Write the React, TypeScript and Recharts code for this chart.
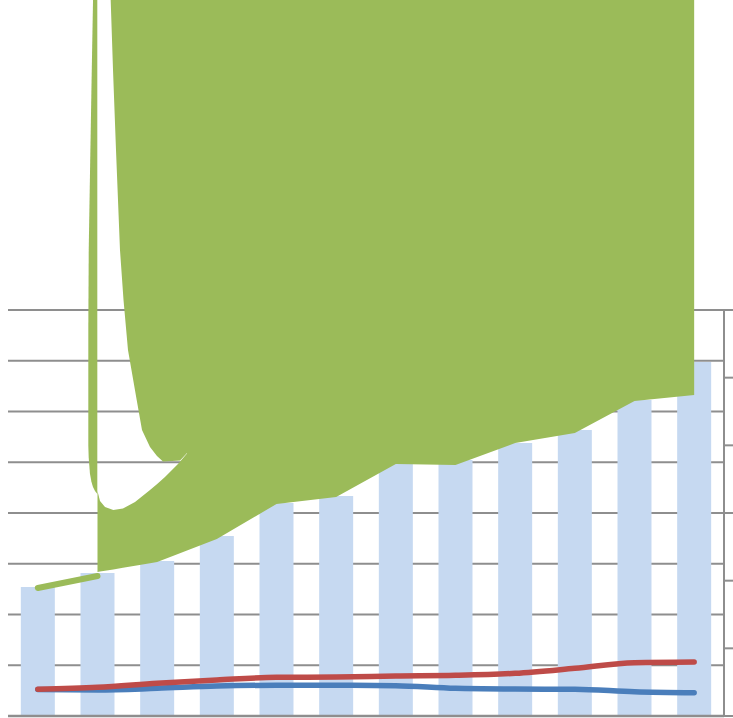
import React from 'react';
import { ComposedChart, Bar, Line, Area, XAxis, YAxis, CartesianGrid } from 'recharts';

// ---- main series ----
const categories = ['2001', '2002', '2003', '2004', '2005', '2006', '2007', '2008', '2009', '2010', '2011', '2012'];
const barValues = [2542, 2818, 3054, 3547, 4197, 4335, 4985, 5044, 5379, 5635, 6227, 6975];
const greenLineValues = [2522, 2759, null, null, null, null, null, null, null, null, null, null];
const greenValues = [null, 2837, 3035, 3488, 4177, 4315, 4966, 4946, 5379, 5576, 6207, 6325];
const redValues = [3.95, 4.24, 4.83, 5.32, 5.72, 5.76, 5.91, 6.01, 6.31, 7.05, 7.88, 7.98];
const blueValues = [3.92, 3.84, 4.09, 4.43, 4.54, 4.54, 4.48, 4.09, 3.99, 3.95, 3.59, 3.44];
const leftTicks = [0, 1000, 2000, 3000, 4000, 5000, 6000, 7000, 8000];
const rightTicks = [0, 10, 20, 30, 40, 50, 60];

// ---- green fill shape (left-axis units) ----
const TOP = 14108;
const stripeU = [0.846, 0.853, 0.874, 0.899, 0.925, 0.958, 0.997];
const stripeLow = [5340, 5084, 4769, 4611, 4512, 4434, 4374];
const stripeHigh = [7606, 9182, 10680, 12394, TOP, TOP, TOP];

const capU = [1.221, 1.26, 1.31, 1.377, 1.436, 1.511, 1.657, 1.746, 1.88, 1.997, 2.098, 2.249, 2.383, 2.5, 2.718];
const capLow = [TOP, 12729, 11153, 9182, 8197, 7212, 6227, 5636, 5301, 5123, 5015, 5025, 5034, 5182, 5340];

const cuspU = [1, 1.042, 1.126, 1.265, 1.427, 1.629, 1.88, 2, 2.131, 2.349, 2.5];
const cuspEdgeLow = [2837, 2845, 2863, 2889, 2922, 2962, 3011, 3035, 3094, 3192, 3261];
const cuspFloor = [4434, 4237, 4118, 4059, 4089, 4217, 4453, 4571, 4709, 4966, 5172];

const mainData = categories.map((name, i) => ({
  name,
  bar: barValues[i],
  greenLine: greenLineValues[i],
  red: redValues[i],
  blue: blueValues[i],
}));

const overlayData: any[] = [
  ...stripeU.map((u, i) => ({ u, stripe: [stripeLow[i], stripeHigh[i]] })),
  ...capU.map((u, i) => ({ u, cap: [capLow[i], TOP] })),
  ...cuspU.map((u, i) => ({ u, body: [cuspEdgeLow[i], cuspFloor[i]] })),
  { u: 2.5, body: [cuspEdgeLow[cuspEdgeLow.length - 1], TOP] },
  ...greenValues
    .map((v, i) => ({ i, v }))
    .filter((d) => d.i >= 3 && d.v != null)
    .map((d) => ({ u: d.i, body: [d.v, TOP] })),
];

const GRID = '#8E8E8E';
const GREEN = '#9BBB59';

const EmptyTick = () => <g />;

export default function App() {
  return (
    <div style={{ width: 733, height: 718, position: 'relative', overflow: 'hidden', background: '#fff' }}>
      <style>{'html,body{margin:0;padding:0;}'}</style>
      <div style={{ position: 'absolute', left: 0, top: 0 }}>
        <ComposedChart width={733} height={718} data={mainData} margin={{ top: 310, right: 0, bottom: 0, left: 8 }} barCategoryGap="21.5%">
          <CartesianGrid yAxisId="left" vertical={false} stroke={GRID} strokeWidth={2} />
          <XAxis dataKey="name" tick={false} tickLine={false} height={2} axisLine={{ stroke: GRID, strokeWidth: 2.5 }} />
          <YAxis yAxisId="left" hide domain={[0, 8000]} ticks={leftTicks} />
          <YAxis
            yAxisId="right"
            orientation="right"
            width={9}
            domain={[0, 60]}
            ticks={rightTicks}
            interval={0}
            tick={EmptyTick}
            tickSize={9}
            tickLine={{ stroke: GRID, strokeWidth: 2 }}
            axisLine={{ stroke: GRID, strokeWidth: 2 }}
          />
          <Bar yAxisId="left" dataKey="bar" fill="#C6D9F1" isAnimationActive={false} />
          <Line yAxisId="left" dataKey="greenLine" stroke={GREEN} strokeWidth={6} strokeLinecap="round" dot={false} activeDot={false} type="linear" isAnimationActive={false} />
          <Line yAxisId="right" dataKey="blue" stroke="#4A7EBB" strokeWidth={5.5} strokeLinecap="round" dot={false} activeDot={false} type="monotone" isAnimationActive={false} />
          <Line yAxisId="right" dataKey="red" stroke="#BE4B48" strokeWidth={5.5} strokeLinecap="round" dot={false} activeDot={false} type="monotone" isAnimationActive={false} />
        </ComposedChart>
      </div>
      <div style={{ position: 'absolute', left: 0, top: 0, pointerEvents: 'none' }}>
        <ComposedChart width={733} height={718} data={overlayData} margin={{ top: 0, right: 9, bottom: 2, left: 8 }}>
          <XAxis dataKey="u" type="number" domain={[-0.5, 11.5]} hide />
          <YAxis hide domain={[0, TOP]} />
          <Area dataKey="stripe" type="linear" stroke="none" fill={GREEN} fillOpacity={1} connectNulls dot={false} activeDot={false} isAnimationActive={false} />
          <Area dataKey="cap" type="linear" stroke="none" fill={GREEN} fillOpacity={1} connectNulls dot={false} activeDot={false} isAnimationActive={false} />
          <Area dataKey="body" type="linear" stroke="none" fill={GREEN} fillOpacity={1} connectNulls dot={false} activeDot={false} isAnimationActive={false} />
        </ComposedChart>
      </div>
    </div>
  );
}
